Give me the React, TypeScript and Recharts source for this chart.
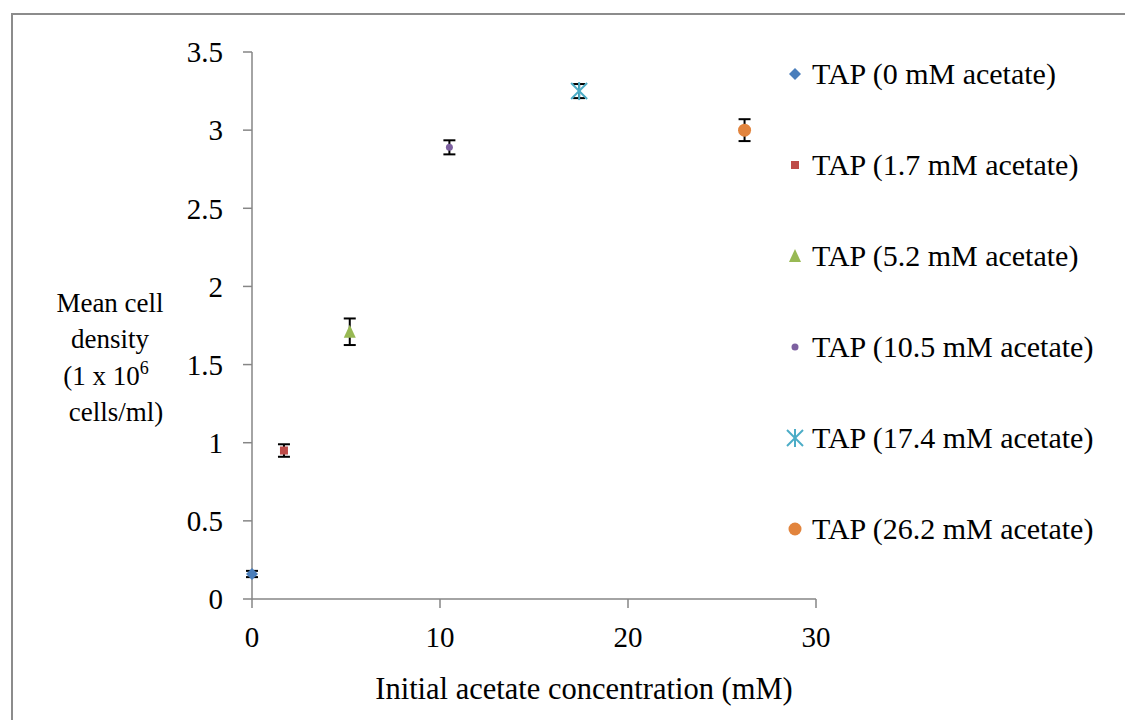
import { ScatterChart, Scatter, XAxis, YAxis, ErrorBar, Legend } from 'recharts'

// Initial acetate concentration (mM) per culture
const concentrations = [0, 1.7, 5.2, 10.5, 17.4, 26.2]
// Mean cell density (1 x 10^6 cells/ml)
const densities = [0.16, 0.95, 1.71, 2.89, 3.25, 3.0]
// Error bar half-lengths
const errors = [0.02, 0.04, 0.085, 0.045, 0.045, 0.07]
const seriesNames = [
  'TAP (0 mM acetate)',
  'TAP (1.7 mM acetate)',
  'TAP (5.2 mM acetate)',
  'TAP (10.5 mM acetate)',
  'TAP (17.4 mM acetate)',
  'TAP (26.2 mM acetate)',
]
const xTicks = [0, 10, 20, 30]
const yTicks = [0, 0.5, 1, 1.5, 2, 2.5, 3, 3.5]

const COLORS = ['#4a7ebb', '#be4b48', '#98b954', '#7d60a0', '#4bacc6', '#e2843d']
const FONT = '"Liberation Serif", "Times New Roman", serif'
const AXIS = '#868686'

type Kind = 'diamond' | 'square' | 'triangle' | 'dot' | 'star' | 'circle'
const KINDS: Kind[] = ['diamond', 'square', 'triangle', 'dot', 'star', 'circle']

const Marker = ({ kind, cx, cy, color }: { kind: Kind; cx: number; cy: number; color: string }) => {
  switch (kind) {
    case 'diamond':
      return <polygon points={`${cx},${cy - 6} ${cx + 6},${cy} ${cx},${cy + 6} ${cx - 6},${cy}`} fill={color} />
    case 'square':
      return <rect x={cx - 4} y={cy - 4} width={8} height={8} fill={color} />
    case 'triangle':
      return <polygon points={`${cx},${cy - 7} ${cx + 6},${cy + 6} ${cx - 6},${cy + 6}`} fill={color} />
    case 'dot':
      return <circle cx={cx} cy={cy} r={3.5} fill={color} />
    case 'star':
      return (
        <g stroke={color} strokeWidth={2}>
          <line x1={cx - 8} y1={cy - 8} x2={cx + 8} y2={cy + 8} />
          <line x1={cx - 8} y1={cy + 8} x2={cx + 8} y2={cy - 8} />
          <line x1={cx} y1={cy - 9} x2={cx} y2={cy + 9} />
        </g>
      )
    default:
      return <circle cx={cx} cy={cy} r={6.5} fill={color} />
  }
}

const series = concentrations.map((x, i) => ({
  name: seriesNames[i],
  kind: KINDS[i],
  color: COLORS[i],
  data: [{ x, y: densities[i], err: errors[i] }],
}))

const LegendContent = () => (
  <div style={{ fontFamily: FONT, fontSize: 30, color: '#000' }}>
    {series.map((s) => (
      <div key={s.name} style={{ height: 91, display: 'flex', alignItems: 'flex-start' }}>
        <svg width={20} height={30} style={{ marginLeft: -31, marginRight: 7, marginTop: 3 }}>
          <Marker kind={s.kind} cx={10} cy={15} color={s.color} />
        </svg>
        <span style={{ lineHeight: '36px', whiteSpace: 'nowrap' }}>{s.name}</span>
      </div>
    ))}
  </div>
)

const YLabel = () => (
  <text fontFamily={FONT} fontSize={27} fill="#000" textAnchor="middle">
    <tspan x={110} y={312}>Mean cell</tspan>
    <tspan x={110} y={348}>density</tspan>
    <tspan x={106} y={385}>(1 x 10</tspan>
    <tspan dy={-11} fontSize={18}>6</tspan>
    <tspan x={116} y={421}>cells/ml)</tspan>
  </text>
)

const XLabel = (props: any) => {
  const vb = props.viewBox
  return (
    <text
      x={vb.x + vb.width / 2 + 50}
      y={vb.y + 100}
      fontFamily={FONT}
      fontSize={30.5}
      fill="#000"
      textAnchor="middle"
    >
      Initial acetate concentration (mM)
    </text>
  )
}

export default function App() {
  return (
    <div style={{ position: 'absolute', left: 0, top: 0, width: 1125, height: 720, background: '#fff' }}>
      <div
        style={{
          position: 'absolute',
          left: 11,
          top: 13,
          right: 0,
          bottom: 0,
          borderTop: '2px solid #8c8c8c',
          borderLeft: '2px solid #8c8c8c',
        }}
      />
      <ScatterChart
        width={1125}
        height={720}
        margin={{ top: 52, right: 5, bottom: 0, left: 0 }}
        style={{ position: 'absolute', left: 0, top: 0 }}
      >
        <XAxis
          type="number"
          dataKey="x"
          domain={[0, 30]}
          ticks={xTicks}
          stroke={AXIS}
          strokeWidth={1.5}
          tickSize={9}
          tickMargin={18}
          height={121}
          tick={{ fontFamily: FONT, fontSize: 29, fill: '#000' }}
          label={<XLabel />}
        />
        <YAxis
          type="number"
          dataKey="y"
          domain={[0, 3.5]}
          ticks={yTicks}
          stroke={AXIS}
          strokeWidth={1.5}
          tickSize={9}
          tickMargin={20}
          width={252}
          tick={{ fontFamily: FONT, fontSize: 29, fill: '#000' }}
          label={<YLabel />}
        />
        <Legend
          layout="vertical"
          align="right"
          verticalAlign="top"
          width={304}
          content={<LegendContent />}
          wrapperStyle={{ top: 56, right: 5 }}
        />
        {series.map((s) => (
          <Scatter
            key={s.name}
            name={s.name}
            data={s.data}
            fill={s.color}
            isAnimationActive={false}
            shape={(p: any) => <Marker kind={s.kind} cx={p.cx} cy={p.cy} color={s.color} />}
          >
            <ErrorBar dataKey="err" direction="y" stroke="#000" strokeWidth={2} width={6} />
          </Scatter>
        ))}
      </ScatterChart>
    </div>
  )
}
